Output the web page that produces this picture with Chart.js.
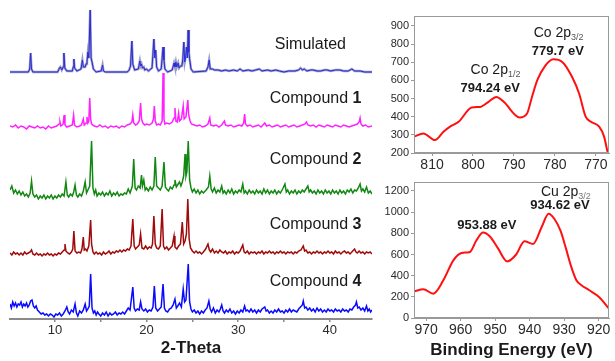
<!DOCTYPE html>
<html>
<head>
<meta charset="utf-8">
<script src="https://cdn.jsdelivr.net/npm/chart.js@4.4.0/dist/chart.umd.min.js"></script>
<style>
html, body { margin: 0; padding: 0; background: #fff; }
#wrap { position: relative; width: 615px; height: 361px; overflow: hidden; }
.box { position: absolute; }
</style>
</head>
<body>
<div id="wrap">
  <div class="box" style="left:0;top:0;width:380px;height:361px"><canvas id="xrdChart"></canvas></div>
  <div class="box" style="left:370px;top:0;width:245px;height:178px"><canvas id="coChart"></canvas></div>
  <div class="box" style="left:370px;top:170px;width:245px;height:191px"><canvas id="cuChart"></canvas></div>
</div>
<script>
// XRD patterns: [2-theta, height above the trace baseline]
const simulated = [[5.1,0],[7.1,0],[7.25,3],[7.35,19],[7.45,3],[7.6,0],[10.3,0],[10.5,4],[10.6,5],[10.75,2],[10.9,5],[10.98,19],[11.08,4],[11.3,1],[11.9,1],[12.0,5],[12.07,13],[12.15,4],[12.4,1],[12.85,3],[13.0,12],[13.1,5],[13.3,5],[13.4,8],[13.5,10],[13.6,20],[13.7,14],[13.85,62],[13.95,14],[14.05,10],[14.2,3],[14.5,0],[15.05,1],[15.2,7],[15.3,1],[15.5,0],[17.9,0],[18.1,2],[18.25,6],[18.4,31],[18.5,8],[18.7,2],[19.1,3],[19.27,11],[19.35,6],[19.45,8],[19.55,4],[19.7,5],[19.8,2],[20.0,3],[20.2,1],[20.6,4],[20.8,33],[20.9,14],[21.0,22],[21.1,5],[21.3,1],[21.6,3],[21.8,25],[21.9,12],[22.0,3],[22.3,0],[22.8,2],[23.0,9],[23.1,5],[23.2,10],[23.3,5],[23.45,9],[23.55,4],[23.7,6],[23.85,6],[23.95,12],[24.07,30],[24.17,10],[24.25,14],[24.36,25],[24.45,14],[24.54,42],[24.62,20],[24.7,13],[24.85,3],[25.1,0],[26.5,1],[26.7,5],[26.83,12],[26.95,3],[27.2,3],[27.4,2],[27.8,2],[28.2,1],[28.6,2],[29.0,1],[29.5,2],[29.9,1],[30.2,3],[30.5,1],[31.1,2],[31.5,1],[31.9,2],[32.3,3],[32.6,1],[33.2,2],[33.6,1],[34.1,2],[34.5,1],[35.0,0],[35.5,1],[36.2,1],[36.6,2],[36.8,4],[37.0,2],[37.2,3],[37.5,1],[37.9,2],[38.2,2],[38.6,1],[39.0,1],[39.4,2],[39.7,2],[40.1,1],[40.6,2],[41.1,2],[41.5,1],[42.0,1],[42.4,3],[42.7,1],[43.3,1],[43.8,0],[44.6,0]];

const compound1 = [[5.1,1],[5.4,0],[5.7,2],[6.0,-1],[6.3,1],[6.6,0],[6.9,-2],[7.2,1],[7.5,0],[7.8,-1],[8.1,1],[8.4,-1],[8.7,0],[9.0,-2],[9.3,1],[9.6,-1],[9.9,0],[10.2,1],[10.45,3],[10.55,5],[10.65,1],[10.8,2],[10.9,3],[11.0,12],[11.1,2],[11.3,0],[11.6,1],[11.9,2],[12.04,12],[12.14,2],[12.4,0],[12.7,1],[12.9,2],[13.1,8],[13.2,2],[13.4,4],[13.5,10],[13.6,4],[13.7,6],[13.8,29],[13.9,8],[14.0,3],[14.3,1],[14.6,0],[14.9,2],[15.2,0],[15.5,1],[15.8,-1],[16.1,1],[16.4,0],[16.7,1],[17.0,-1],[17.3,1],[17.6,0],[17.9,2],[18.2,3],[18.4,5],[18.5,12],[18.6,4],[18.8,2],[19.0,3],[19.2,6],[19.35,24],[19.45,8],[19.6,4],[19.8,2],[20.0,3],[20.3,2],[20.6,4],[20.75,8],[20.85,21],[20.95,6],[21.1,2],[21.3,3],[21.5,2],[21.7,6],[21.8,54],[21.9,8],[22.0,3],[22.2,4],[22.5,3],[22.8,5],[23.0,9],[23.1,19],[23.2,6],[23.35,5],[23.5,14],[23.6,6],[23.8,8],[24.0,21],[24.1,8],[24.3,10],[24.5,27],[24.6,12],[24.75,6],[24.9,3],[25.2,2],[25.5,1],[25.8,2],[26.1,0],[26.4,1],[26.7,3],[26.9,9],[27.0,2],[27.3,1],[27.6,2],[27.9,0],[28.2,2],[28.5,6],[28.6,2],[28.9,1],[29.2,2],[29.5,0],[29.8,1],[30.1,2],[30.4,1],[30.6,4],[30.7,13],[30.8,3],[31.0,1],[31.3,2],[31.6,0],[31.9,1],[32.2,2],[32.5,0],[32.9,4],[33.1,1],[33.4,2],[33.7,0],[34.0,1],[34.3,2],[34.6,0],[34.9,1],[35.2,2],[35.5,0],[35.8,1],[36.1,2],[36.4,0],[36.7,1],[37.0,2],[37.3,3],[37.45,5],[37.6,2],[37.9,1],[38.2,2],[38.5,0],[38.8,2],[39.1,1],[39.4,0],[39.7,2],[40.0,1],[40.3,0],[40.6,2],[40.9,1],[41.2,0],[41.5,2],[41.8,1],[42.1,0],[42.4,1],[42.7,2],[43.0,3],[43.2,5],[43.3,9],[43.4,3],[43.6,1],[43.9,2],[44.2,0],[44.6,1]];

const compound2 = [[5.1,6],[5.3,10],[5.5,3],[5.7,6],[5.9,2],[6.1,5],[6.3,1],[6.5,4],[6.7,0],[6.9,2],[7.1,-1],[7.3,3],[7.45,15],[7.6,2],[7.8,-1],[8.0,1],[8.2,-3],[8.4,0],[8.6,-2],[8.8,1],[9.0,-3],[9.2,0],[9.4,-2],[9.6,1],[9.8,-3],[10.0,0],[10.2,-2],[10.4,1],[10.6,-1],[10.8,2],[11.0,0],[11.2,14],[11.35,1],[11.5,-1],[11.7,2],[11.9,0],[12.05,4],[12.2,11],[12.35,1],[12.5,-1],[12.7,2],[12.9,0],[13.1,5],[13.3,14],[13.45,3],[13.6,6],[13.8,10],[14.0,55],[14.15,8],[14.3,2],[14.45,6],[14.6,0],[14.8,3],[15.0,1],[15.2,4],[15.4,0],[15.6,3],[15.8,1],[16.0,5],[16.2,0],[16.4,3],[16.6,1],[16.8,4],[17.0,0],[17.2,2],[17.4,1],[17.6,3],[17.8,2],[18.0,7],[18.2,3],[18.45,10],[18.6,37],[18.75,8],[18.9,6],[19.1,10],[19.3,8],[19.45,21],[19.55,10],[19.7,16],[19.85,6],[20.0,8],[20.2,5],[20.4,9],[20.6,6],[20.8,10],[20.95,39],[21.1,10],[21.3,8],[21.5,6],[21.7,10],[21.9,34],[22.05,9],[22.2,7],[22.4,5],[22.6,9],[22.8,7],[23.0,11],[23.1,16],[23.25,9],[23.45,12],[23.6,14],[23.75,10],[23.9,14],[24.05,20],[24.2,42],[24.3,20],[24.4,24],[24.55,55],[24.7,16],[24.85,8],[25.0,4],[25.2,7],[25.4,3],[25.6,6],[25.8,2],[26.0,5],[26.2,3],[26.5,6],[26.75,9],[26.9,20],[27.05,7],[27.2,4],[27.4,8],[27.6,3],[27.8,6],[28.0,4],[28.2,10],[28.35,3],[28.5,5],[28.7,2],[28.9,6],[29.1,3],[29.3,7],[29.5,2],[29.7,5],[29.9,3],[30.1,6],[30.3,4],[30.5,12],[30.65,3],[30.8,5],[31.0,2],[31.2,6],[31.4,3],[31.6,5],[31.8,2],[32.0,6],[32.2,3],[32.4,5],[32.6,2],[32.8,7],[33.0,3],[33.2,6],[33.4,2],[33.6,5],[33.8,3],[34.0,6],[34.2,2],[34.4,5],[34.6,3],[34.85,7],[35.1,12],[35.25,4],[35.4,6],[35.6,2],[35.8,5],[36.0,3],[36.2,6],[36.4,2],[36.6,5],[36.8,3],[37.0,6],[37.2,4],[37.4,7],[37.6,10],[37.75,4],[37.9,6],[38.1,3],[38.3,5],[38.5,2],[38.7,6],[38.9,3],[39.1,5],[39.3,2],[39.5,6],[39.7,3],[39.9,5],[40.1,2],[40.3,6],[40.5,3],[40.7,5],[40.9,2],[41.1,6],[41.3,3],[41.5,5],[41.7,2],[41.9,6],[42.1,4],[42.3,7],[42.5,3],[42.7,6],[42.9,5],[43.1,8],[43.3,12],[43.45,5],[43.6,7],[43.8,4],[44.0,9],[44.2,3],[44.4,5],[44.6,2]];

const compound3 = [[5.1,1],[5.3,-1],[5.5,2],[5.7,0],[5.9,1],[6.1,-1],[6.3,1],[6.5,-1],[6.7,2],[6.9,0],[7.1,1],[7.3,2],[7.45,4],[7.6,0],[7.8,-1],[8.0,1],[8.2,-1],[8.4,0],[8.6,-2],[8.8,0],[9.0,-1],[9.2,1],[9.4,-1],[9.6,0],[9.8,-2],[10.0,0],[10.2,-1],[10.4,1],[10.6,0],[10.8,2],[11.0,4],[11.1,10],[11.2,3],[11.4,1],[11.6,0],[11.8,2],[11.95,5],[12.07,23],[12.2,3],[12.4,1],[12.6,2],[12.8,1],[12.95,5],[13.1,17],[13.2,4],[13.35,5],[13.5,3],[13.7,8],[13.9,34],[14.0,10],[14.15,2],[14.3,0],[14.5,2],[14.7,0],[14.9,1],[15.1,-1],[15.3,2],[15.5,0],[15.7,1],[15.9,3],[16.1,0],[16.3,2],[16.5,1],[16.7,3],[16.9,2],[17.1,4],[17.3,2],[17.5,4],[17.7,3],[17.9,5],[18.1,4],[18.3,8],[18.5,35],[18.65,8],[18.8,5],[19.0,7],[19.2,9],[19.35,20],[19.5,6],[19.7,5],[19.9,8],[20.1,5],[20.3,7],[20.5,6],[20.65,10],[20.8,38],[20.95,10],[21.1,6],[21.3,5],[21.5,8],[21.7,45],[21.85,8],[22.0,5],[22.2,7],[22.4,4],[22.6,6],[22.8,8],[23.0,18],[23.1,7],[23.3,5],[23.5,8],[23.7,10],[23.9,32],[24.05,10],[24.2,13],[24.35,20],[24.5,55],[24.65,15],[24.8,6],[25.0,3],[25.2,1],[25.4,3],[25.6,1],[25.8,2],[26.0,0],[26.2,2],[26.45,5],[26.7,10],[26.85,4],[27.0,2],[27.2,5],[27.4,1],[27.6,3],[27.8,1],[28.0,4],[28.2,2],[28.4,1],[28.6,3],[28.8,0],[29.0,2],[29.2,1],[29.4,3],[29.6,0],[29.8,2],[30.0,1],[30.2,3],[30.5,9],[30.65,2],[30.8,1],[31.0,3],[31.2,0],[31.4,2],[31.6,1],[31.8,2],[32.0,0],[32.2,2],[32.4,1],[32.6,3],[32.8,0],[33.0,2],[33.2,1],[33.4,3],[33.6,1],[33.8,2],[34.0,0],[34.2,2],[34.4,1],[34.6,3],[34.8,1],[35.0,2],[35.2,0],[35.4,2],[35.6,1],[35.8,2],[36.0,0],[36.2,2],[36.4,1],[36.6,3],[36.85,4],[37.1,8],[37.25,3],[37.4,4],[37.6,1],[37.8,2],[38.0,0],[38.2,2],[38.4,1],[38.6,3],[38.8,1],[39.0,2],[39.2,0],[39.4,2],[39.6,1],[39.8,3],[40.0,1],[40.2,2],[40.4,0],[40.6,3],[40.8,1],[41.0,2],[41.2,0],[41.4,2],[41.6,3],[41.8,1],[42.0,2],[42.2,0],[42.5,3],[42.7,5],[42.85,2],[43.0,1],[43.2,3],[43.4,1],[43.6,2],[43.8,0],[44.0,2],[44.2,1],[44.4,2],[44.6,0]];

const compound4 = [[5.1,10],[5.25,6],[5.4,12],[5.55,8],[5.7,11],[5.85,7],[6.0,10],[6.15,9],[6.3,12],[6.45,7],[6.6,10],[6.75,8],[6.9,11],[7.05,7],[7.2,9],[7.35,13],[7.5,14],[7.65,8],[7.8,6],[7.95,8],[8.1,4],[8.3,2],[8.5,0],[8.7,1],[8.9,-1],[9.1,0],[9.3,-2],[9.5,0],[9.7,-1],[9.9,-3],[10.1,0],[10.3,-1],[10.5,1],[10.7,-2],[10.9,0],[11.1,3],[11.3,7],[11.45,2],[11.6,0],[11.8,4],[12.0,2],[12.2,10],[12.35,1],[12.5,-2],[12.7,3],[12.9,1],[13.1,4],[13.3,10],[13.45,3],[13.6,5],[13.75,8],[13.9,40],[14.05,6],[14.2,1],[14.35,3],[14.5,-1],[14.65,2],[14.8,0],[15.0,-2],[15.2,1],[15.4,-1],[15.6,2],[15.8,-2],[16.0,1],[16.2,-1],[16.4,0],[16.6,2],[16.8,-1],[17.0,1],[17.2,0],[17.4,2],[17.6,0],[17.8,3],[18.0,6],[18.2,4],[18.5,27],[18.65,6],[18.8,3],[19.0,5],[19.2,4],[19.35,12],[19.5,5],[19.7,3],[19.9,5],[20.1,2],[20.3,4],[20.5,3],[20.7,7],[20.85,28],[21.0,6],[21.2,3],[21.4,5],[21.6,7],[21.8,30],[21.95,6],[22.1,3],[22.3,2],[22.5,5],[22.7,6],[22.9,9],[23.1,15],[23.25,6],[23.4,8],[23.6,11],[23.8,7],[24.0,25],[24.15,12],[24.3,14],[24.55,50],[24.7,12],[24.85,5],[25.0,2],[25.2,4],[25.4,1],[25.6,3],[25.8,0],[26.0,3],[26.2,1],[26.4,4],[26.6,6],[26.8,13],[26.95,5],[27.1,2],[27.3,6],[27.5,1],[27.7,4],[27.9,2],[28.05,5],[28.2,9],[28.35,3],[28.5,1],[28.7,4],[28.9,2],[29.1,5],[29.3,1],[29.5,3],[29.7,0],[29.9,3],[30.1,1],[30.3,4],[30.5,2],[30.7,8],[30.85,3],[31.0,4],[31.2,2],[31.4,5],[31.6,2],[31.8,4],[32.0,1],[32.2,4],[32.4,2],[32.6,5],[32.9,7],[33.05,3],[33.2,4],[33.4,1],[33.6,3],[33.8,1],[34.0,4],[34.2,2],[34.4,5],[34.6,2],[34.8,3],[35.0,1],[35.2,4],[35.4,2],[35.6,5],[35.8,2],[36.0,4],[36.2,3],[36.4,2],[36.6,5],[36.8,7],[37.0,9],[37.1,13],[37.25,6],[37.4,7],[37.6,4],[37.8,6],[38.0,3],[38.2,5],[38.4,2],[38.6,6],[38.8,3],[39.0,5],[39.2,2],[39.4,4],[39.6,2],[39.8,5],[40.0,3],[40.2,4],[40.4,2],[40.6,5],[40.8,3],[41.0,4],[41.2,2],[41.4,5],[41.6,3],[41.8,4],[42.0,2],[42.2,5],[42.4,4],[42.6,7],[42.8,9],[42.9,12],[43.05,6],[43.2,7],[43.4,4],[43.6,6],[43.8,3],[44.0,8],[44.15,3],[44.3,5],[44.45,2],[44.6,4]];

// vertical stacking offset of each pattern (same units as heights)
const xrdOffsets = [247, 192, 123, 65, 5];
const xrdNames = ['Simulated', 'Compound ', 'Compound ', 'Compound ', 'Compound '];
const xrdNumbers = ['', '1', '2', '3', '4'];
const thetaTicks = [10, 15, 20, 25, 30, 35, 40];

// XPS Co 2p
const coEnergy = [814.4, 812.1, 809.3, 807.2, 805.6, 803.5, 800.3, 798.2, 796.2, 794.3, 792.5, 788.6, 786.8, 785.6, 784.3, 782.3, 780.4, 778.2, 775.8, 774.1, 772.5, 771.2, 769.2, 768.0, 767.1, 766.5];
const coCounts = [290, 308, 271, 317, 345, 372, 451, 454, 482, 509, 482, 396, 418, 509, 601, 683, 717, 702, 619, 528, 400, 372, 345, 290, 200, 150];
const coTicksX = [810, 800, 790, 780, 770];
const coTicksY = [200, 300, 400, 500, 600, 700, 800, 900];

// XPS Cu 2p
const cuEnergy = [973.4, 970.8, 967.9, 965.0, 962.1, 959.7, 957.3, 955.4, 953.5, 951.5, 949.2, 946.5, 943.9, 941.5, 939.0, 936.5, 934.5, 932.8, 931.0, 929.5, 928.0, 926.5, 925.0, 922.7, 919.9, 917.0];
const cuCounts = [252, 271, 230, 356, 545, 615, 624, 734, 808, 770, 660, 535, 600, 725, 700, 860, 985, 935, 820, 660, 490, 360, 310, 262, 199, 89];
const cuTicksX = [970, 960, 950, 940, 930, 920];
const cuTicksY = [0, 200, 400, 600, 800, 1000, 1200];

const FONT = "'Liberation Sans', Arial, sans-serif";

// draws text pieces (normal / bold / subscript) at data coordinates
function textLabels(items) {
    return {
        id: 'textLabels',
        afterDatasetsDraw(chart) {
            const { ctx, scales } = chart;
            ctx.save();
            ctx.textBaseline = 'middle';
            items.forEach(item => {
                let total = 0;
                item.parts.forEach(p => { ctx.font = p.font; total += ctx.measureText(p.text).width; });
                let px = scales.x.getPixelForValue(item.x);
                if (item.center) px -= total / 2;
                const py = scales.y.getPixelForValue(item.y);
                item.parts.forEach(p => {
                    ctx.font = p.font;
                    ctx.fillStyle = p.color || '#1a1a1a';
                    ctx.fillText(p.text, px, py + (p.dy || 0));
                    px += ctx.measureText(p.text).width;
                });
            });
            ctx.restore();
        }
    };
}

const frameBox = {
    id: 'frameBox',
    afterDraw(chart) {
        const { ctx, chartArea: a } = chart;
        ctx.save();
        ctx.strokeStyle = '#9a9a9a';
        ctx.lineWidth = 1;
        ctx.strokeRect(a.left + 0.5, a.top + 0.5, a.right - a.left - 1, a.bottom - a.top - 1);
        ctx.restore();
    }
};

// XRD chart (first dataset is drawn on top)
const xrdColors = ['#2a2ad8', '#ff22ff', '#118811', '#a00a0a', '#0a0aff'];
const xrdTraces = [simulated, compound1, compound2, compound3, compound4];
const xrdDatasets = xrdTraces.map((t, i) => ({
    data: t.map(([x, h]) => ({ x: x, y: h + xrdOffsets[i] })),
    borderColor: xrdColors[i],
    borderWidth: i === 0 ? 1 : 1.5,
    pointRadius: 0,
    tension: 0
}));
// lighter envelope under the simulated pattern
xrdDatasets.push({
    data: simulated.map(([x, h]) => ({ x: x, y: h + xrdOffsets[0] })),
    borderColor: '#9c9cc8',
    borderWidth: 2.4,
    pointRadius: 0,
    tension: 0
});

const xrdLabelItems = xrdNames.map((name, i) => ({
    x: i === 0 ? 34.0 : 33.45,
    y: [274, 220, 159, 94, 37][i],
    parts: [
        { text: name, font: '16px ' + FONT },
        { text: xrdNumbers[i], font: 'bold 16px ' + FONT }
    ]
}));

new Chart(document.getElementById('xrdChart'), {
    type: 'line',
    data: { datasets: xrdDatasets },
    options: {
        responsive: true,
        maintainAspectRatio: false,
        animation: false,
        layout: { padding: { left: 10, right: 8, top: 0, bottom: 0 } },
        plugins: { legend: { display: false }, tooltip: { enabled: false } },
        scales: {
            x: {
                type: 'linear',
                min: 5.1,
                max: 44.6,
                afterBuildTicks: s => { s.ticks = thetaTicks.map(v => ({ value: v })); },
                afterFit: s => { s.height = 42; },
                border: { display: true, color: '#8a8a8a', width: 2 },
                grid: { display: true, drawOnChartArea: false, drawTicks: true, tickLength: 3, color: '#8a8a8a', lineWidth: 1.5 },
                ticks: {
                    padding: 1,
                    maxRotation: 0,
                    autoSkip: false,
                    color: '#2a2a2a',
                    font: { family: FONT, size: 13 },
                    callback: v => (v % 10 === 0 ? v : '')
                },
                title: {
                    display: true,
                    text: '2-Theta',
                    color: '#1a1a1a',
                    padding: { top: 0, bottom: 2 },
                    font: { family: FONT, size: 17, weight: 'bold' }
                }
            },
            y: { type: 'linear', display: false, min: 0, max: 319 }
        }
    },
    plugins: [textLabels(xrdLabelItems)]
});

function xpsOptions(xMin, xMax, xTicks, yMin, yMax, yTicks, xTitle, xHeight, padTop) {
    return {
        responsive: true,
        maintainAspectRatio: false,
        animation: false,
        layout: { padding: { left: 0, right: 6, top: padTop, bottom: 0 } },
        plugins: { legend: { display: false }, tooltip: { enabled: false } },
        scales: {
            x: {
                type: 'linear',
                reverse: true,
                min: xMin,
                max: xMax,
                afterBuildTicks: s => { s.ticks = xTicks.map(v => ({ value: v })); },
                afterFit: s => { s.height = xHeight; },
                border: { display: true, color: '#9a9a9a' },
                grid: { display: true, drawOnChartArea: false, tickLength: 3, color: '#9a9a9a' },
                ticks: { padding: 1, maxRotation: 0, autoSkip: false, color: '#2a2a2a', font: { family: FONT, size: 14 }, callback: v => String(v) },
                title: {
                    display: !!xTitle,
                    text: xTitle,
                    color: '#1a1a1a',
                    padding: { top: 2, bottom: 0 },
                    font: { family: FONT, size: 17, weight: 'bold' }
                }
            },
            y: {
                type: 'linear',
                min: yMin,
                max: yMax,
                afterBuildTicks: s => { s.ticks = yTicks.map(v => ({ value: v })); },
                afterFit: s => { s.width = 44; },
                border: { display: true, color: '#9a9a9a' },
                grid: { display: true, drawOnChartArea: false, tickLength: 3, color: '#9a9a9a' },
                ticks: { padding: 2, autoSkip: false, color: '#2a2a2a', font: { family: FONT, size: 11 }, callback: v => String(v) }
            }
        }
    };
}

function xpsDataset(energy, counts) {
    return {
        data: energy.map((e, i) => ({ x: e, y: counts[i] })),
        borderColor: '#ff1010',
        borderWidth: 2,
        pointRadius: 0,
        cubicInterpolationMode: 'monotone'
    };
}

const bold13 = 'bold 13px ' + FONT;
const reg14 = '14px ' + FONT;
const sub9 = '9px ' + FONT;

new Chart(document.getElementById('coChart'), {
    type: 'line',
    data: { datasets: [xpsDataset(coEnergy, coCounts)] },
    options: xpsOptions(766.8, 814.4, coTicksX, 200, 955, coTicksY, '', 25, 16),
    plugins: [frameBox, textLabels([
        { x: 779.1, y: 859, center: true, parts: [{ text: 'Co 2p', font: reg14 }, { text: '3/2', font: sub9, dy: 4, color: '#555' }] },
        { x: 779.3, y: 760, center: true, parts: [{ text: '779.7 eV', font: bold13 }] },
        { x: 794.5, y: 656, center: true, parts: [{ text: 'Co 2p', font: reg14 }, { text: '1/2', font: sub9, dy: 4, color: '#555' }] },
        { x: 795.8, y: 557, center: true, parts: [{ text: '794.24 eV', font: bold13 }] }
    ])]
});

new Chart(document.getElementById('cuChart'), {
    type: 'line',
    data: { datasets: [xpsDataset(cuEnergy, cuCounts)] },
    options: xpsOptions(917.0, 973.5, cuTicksX, 0, 1285, cuTicksY, 'Binding Energy (eV)', 43, 12),
    plugins: [frameBox, textLabels([
        { x: 929.5, y: 1188, center: true, parts: [{ text: 'Cu 2p', font: reg14 }, { text: '3/2', font: sub9, dy: 4, color: '#777' }] },
        { x: 931.2, y: 1065, center: true, parts: [{ text: '934.62 eV', font: bold13 }] },
        { x: 952.4, y: 876, center: true, parts: [{ text: '953.88 eV', font: bold13 }] }
    ])]
});
</script>
</body>
</html>
